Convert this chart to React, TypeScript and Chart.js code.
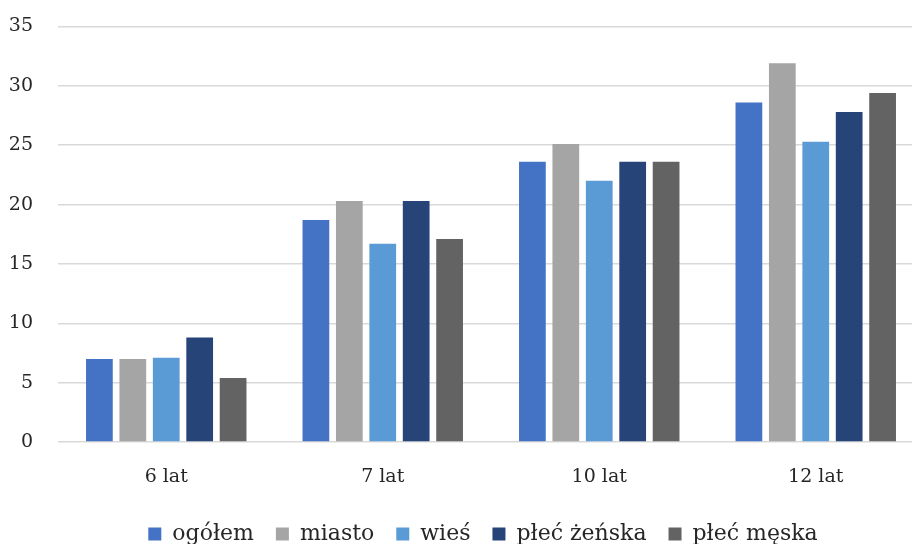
import React, { useEffect, useRef } from "react";
import { Chart, registerables } from "chart.js";

Chart.register(...registerables);

const categories = ["6 lat", "7 lat", "10 lat", "12 lat"];
const seriesNames = ["ogółem", "miasto", "wieś", "płeć żeńska", "płeć męska"];
const ogolem = [7.0, 18.7, 23.6, 28.6];
const miasto = [7.0, 20.3, 25.1, 31.9];
const wies = [7.1, 16.7, 22.0, 25.3];
const plecZenska = [8.8, 20.3, 23.6, 27.8];
const plecMeska = [5.4, 17.1, 23.6, 29.4];
const colors = ["#4472C4", "#A5A5A5", "#5B9BD5", "#264478", "#636363"];

function clearPadding(s: any) {
  s.paddingTop = -100;
  s.paddingBottom = -100;
  s.paddingLeft = -100;
  s.paddingRight = -100;
}

const shiftLegend = {
  id: "shiftLegend",
  afterLayout(c: any) {
    if (c.legend) {
      c.legend.left += 21;
      c.legend.right += 21;
    }
  },
};

export default function App() {
  const ref = useRef<HTMLCanvasElement | null>(null);
  useEffect(() => {
    if (!ref.current) return;
    const font = "'DejaVu Serif', 'Liberation Serif', serif";
    const values = [ogolem, miasto, wies, plecZenska, plecMeska];
    const chart = new Chart(ref.current, {
      type: "bar",
      data: {
        labels: categories,
        datasets: seriesNames.map((n, i) => ({
          label: n,
          data: values[i],
          backgroundColor: colors[i],
          borderWidth: 0,
          barPercentage: 0.8,
          categoryPercentage: 0.772,
        })),
      },
      plugins: [shiftLegend],
      options: {
        animation: false,
        responsive: true,
        maintainAspectRatio: false,
        layout: { padding: { left: 0, right: 0, top: 26.5, bottom: -11 } },
        plugins: {
          legend: {
            position: "bottom",
            labels: {
              font: { family: font, size: 22 },
              color: "#262626",
              boxWidth: 13,
              boxHeight: 13,
              padding: 22,
            },
          },
          tooltip: { enabled: false },
        },
        scales: {
          x: {
            grid: { display: false, drawTicks: false },
            border: { display: false },
            afterFit: (s: any) => {
              s.height = 59;
              clearPadding(s);
            },
            ticks: { font: { family: font, size: 19 }, color: "#262626", padding: 24 },
          },
          y: {
            min: 0,
            max: 35,
            afterFit: (s: any) => {
              s.width = 58;
              clearPadding(s);
            },
            ticks: { stepSize: 5, font: { family: font, size: 19 }, color: "#262626", padding: 25 },
            grid: { color: "#d9d9d9", lineWidth: 1.5, drawTicks: false },
            border: { display: false },
          },
        },
      },
    });
    return () => chart.destroy();
  }, []);
  return (
    <div style={{ position: "fixed", left: 0, top: 0, width: 912, height: 544, overflow: "hidden", background: "#fff" }}>
      <div style={{ position: "absolute", left: 0, top: 0, width: 924, height: 544 }}>
        <canvas ref={ref} />
      </div>
    </div>
  );
}
